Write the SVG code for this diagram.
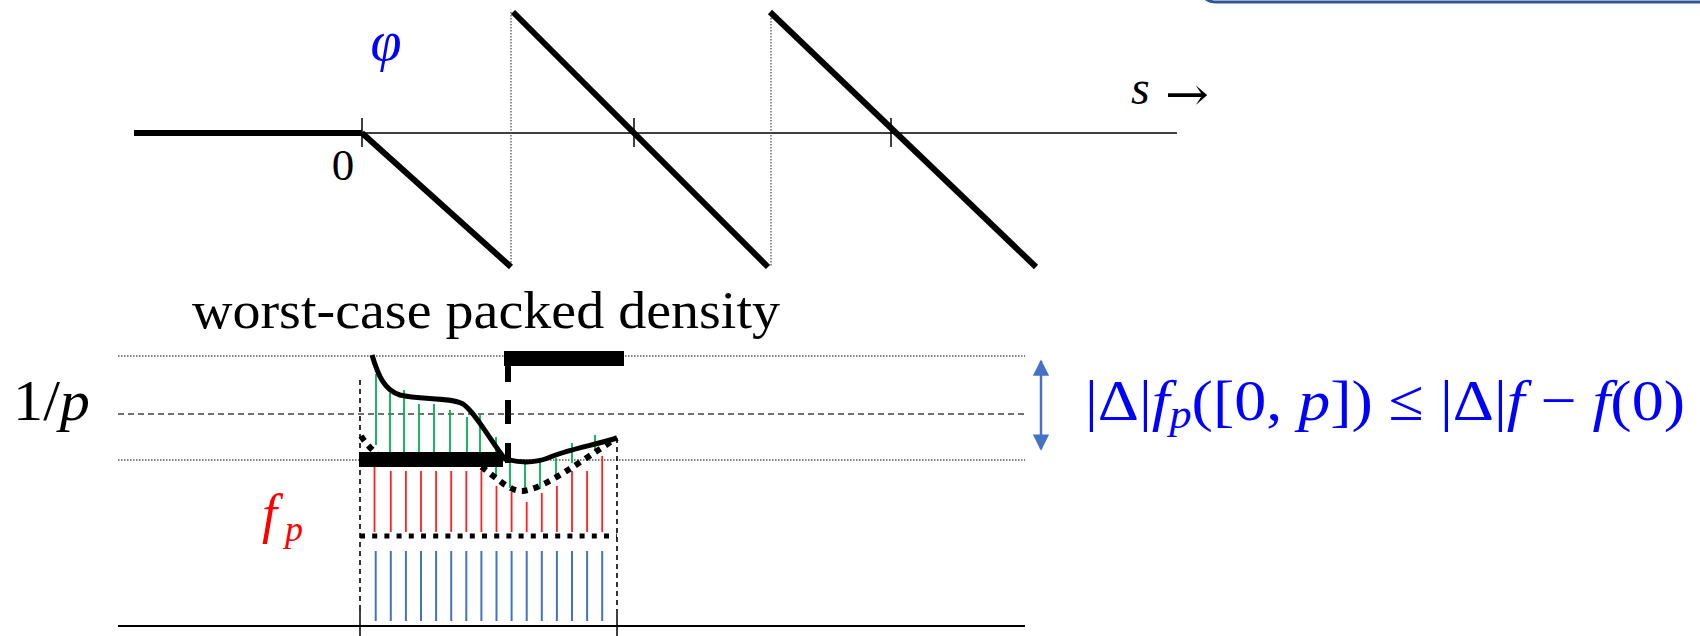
<svg xmlns="http://www.w3.org/2000/svg" width="1700" height="636" viewBox="0 0 1700 636">
<defs>
<style>
.serif{font-family:"Liberation Serif","DejaVu Serif",serif;}
.it{font-style:italic;}
.thin{stroke:#000;stroke-width:1.5;fill:none;}
.thick{stroke:#000;stroke-width:6;fill:none;}
.dot{stroke:#555;stroke-width:1.3;stroke-dasharray:1.5 1.5;fill:none;}
.dash{stroke:#444;stroke-width:1.6;stroke-dasharray:6 4;fill:none;}
.vdash{stroke:#000;stroke-width:1.6;stroke-dasharray:5 4;fill:none;}
.red line{stroke:#FF2020;stroke-width:1.8;}
.green line{stroke:#00B050;stroke-width:1.8;}
.blue line{stroke:#4472C4;stroke-width:2;}
</style>
<marker id="ah" viewBox="0 0 10 10" refX="9" refY="5" markerWidth="6.5" markerHeight="6.5" orient="auto-start-reverse">
<path d="M0,0 L10,5 L0,10 z" fill="#4472C4"/>
</marker>
</defs>
<rect width="1700" height="636" fill="#fff"/>

<g id="corner-box">
<rect x="1198" y="-60" width="560" height="62" rx="18" fill="none" stroke="#2F5597" stroke-width="3"/>
</g>

<g id="top-plot">
<line class="thin" x1="362" y1="133" x2="1177" y2="133"/>
<line class="thick" x1="134" y1="133" x2="362" y2="133"/>
<line class="thin" x1="362" y1="118" x2="362" y2="147"/>
<line class="thin" x1="634" y1="118" x2="634" y2="147"/>
<line class="thin" x1="891" y1="118" x2="891" y2="147"/>
<line class="dot" x1="511" y1="12" x2="511" y2="267"/>
<line class="dot" x1="771" y1="12" x2="771" y2="267"/>
<path class="thick" d="M362,133 L511,267"/>
<path class="thick" d="M513,12 L768,267"/>
<path class="thick" d="M770,12 L1036,267"/>
<text class="serif" x="343" y="180" font-size="45" text-anchor="middle">0</text>
<text class="serif it" x="386" y="60" font-size="56" text-anchor="middle" fill="#0000FF">φ</text>
<text class="serif it" x="1131" y="104" font-size="48">s</text>
<text x="1165" y="110" font-size="46" font-family="'DejaVu Serif','DejaVu Sans',serif" textLength="44" lengthAdjust="spacingAndGlyphs">→</text>
</g>

<g id="title">
<text class="serif" x="192" y="328" font-size="53" textLength="588" lengthAdjust="spacingAndGlyphs">worst-case packed density</text>
</g>

<g id="bottom-plot">
<line class="dot" x1="118" y1="356" x2="1025" y2="356"/>
<line class="dash" x1="118" y1="414" x2="1025" y2="414"/>
<line class="dot" x1="118" y1="460" x2="1025" y2="460"/>
<line x1="118" y1="626" x2="1025" y2="626" stroke="#000" stroke-width="2"/>
<line class="vdash" x1="360" y1="380" x2="360" y2="610"/>
<line class="vdash" x1="617" y1="438" x2="617" y2="610"/>
<line class="thin" x1="360" y1="610" x2="360" y2="636"/>
<line class="thin" x1="617" y1="610" x2="617" y2="636"/>

<g class="blue">
<line x1="375.7" y1="551" x2="375.7" y2="621"/>
<line x1="390.8" y1="551" x2="390.8" y2="621"/>
<line x1="405.9" y1="551" x2="405.9" y2="621"/>
<line x1="421" y1="551" x2="421" y2="621"/>
<line x1="436.1" y1="551" x2="436.1" y2="621"/>
<line x1="451.2" y1="551" x2="451.2" y2="621"/>
<line x1="466.3" y1="551" x2="466.3" y2="621"/>
<line x1="481.4" y1="551" x2="481.4" y2="621"/>
<line x1="496.5" y1="551" x2="496.5" y2="621"/>
<line x1="511.6" y1="551" x2="511.6" y2="621"/>
<line x1="526.7" y1="551" x2="526.7" y2="621"/>
<line x1="541.8" y1="551" x2="541.8" y2="621"/>
<line x1="556.9" y1="551" x2="556.9" y2="621"/>
<line x1="572" y1="551" x2="572" y2="621"/>
<line x1="587.1" y1="551" x2="587.1" y2="621"/>
<line x1="602.2" y1="551" x2="602.2" y2="621"/>
</g>

<g class="red">
<line x1="374.5" y1="467" x2="374.5" y2="532"/>
<line x1="390.8" y1="471" x2="390.8" y2="532"/>
<line x1="405.9" y1="471" x2="405.9" y2="532"/>
<line x1="421" y1="471" x2="421" y2="532"/>
<line x1="436.1" y1="471" x2="436.1" y2="532"/>
<line x1="451.2" y1="471" x2="451.2" y2="532"/>
<line x1="466.3" y1="471" x2="466.3" y2="532"/>
<line x1="481.4" y1="471" x2="481.4" y2="532"/>
<line x1="496.5" y1="486" x2="496.5" y2="532"/>
<line x1="511.6" y1="492" x2="511.6" y2="532"/>
<line x1="526.7" y1="502" x2="526.7" y2="532"/>
<line x1="541.8" y1="493" x2="541.8" y2="532"/>
<line x1="556.9" y1="486" x2="556.9" y2="532"/>
<line x1="572" y1="471" x2="572" y2="532"/>
<line x1="587.1" y1="471" x2="587.1" y2="532"/>
<line x1="602.2" y1="456" x2="602.2" y2="532"/>
</g>

<g class="green">
<line x1="376" y1="374" x2="376" y2="445"/>
<line x1="390" y1="393" x2="390" y2="458"/>
<line x1="404" y1="390" x2="404" y2="458"/>
<line x1="419" y1="404" x2="419" y2="458"/>
<line x1="434" y1="404" x2="434" y2="458"/>
<line x1="450" y1="410" x2="450" y2="458"/>
<line x1="467" y1="417" x2="467" y2="458"/>
<line x1="480" y1="415" x2="480" y2="462"/>
<line x1="496" y1="437" x2="496" y2="475"/>
<line x1="510" y1="463" x2="510" y2="488"/>
<line x1="525" y1="463" x2="525" y2="489"/>
<line x1="540" y1="462" x2="540" y2="489"/>
<line x1="556" y1="458" x2="556" y2="475"/>
<line x1="572" y1="443" x2="572" y2="463"/>
<line x1="595" y1="435" x2="595" y2="451"/>
</g>

<line x1="360" y1="536" x2="617" y2="536" stroke="#000" stroke-width="5" stroke-dasharray="5 7.2"/>
<path d="M361,436 Q370,450 386,461 L476,463 C495,476 508,491 522,491 C545,489 580,461 617,438" fill="none" stroke="#000" stroke-width="6" stroke-dasharray="6 6"/>
<rect x="359" y="452" width="144" height="15" fill="#000"/>
<rect x="504" y="351" width="120" height="15" fill="#000"/>
<path d="M508,351 L508,382 M508,400 L508,424 M508,443 L508,463" stroke="#000" stroke-width="6" fill="none"/>
<path d="M372,355 C378,375 384,390 400,395 C420,400 450,397 463,404 C475,412 490,440 505,459 C520,463 535,463 548,458 C565,450 595,445 617,438" fill="none" stroke="#000" stroke-width="5"/>

<text class="serif" x="13" y="420" font-size="56" textLength="77" lengthAdjust="spacingAndGlyphs">1/<tspan class="it">p</tspan></text>
<text class="serif it" x="262" y="532" font-size="54" fill="#FF0000">f</text>
<text class="serif it" x="285" y="541" font-size="36" fill="#FF0000">p</text>
</g>

<g id="connectors">
<line x1="1041" y1="361" x2="1041" y2="449" stroke="#4472C4" stroke-width="2.5" marker-start="url(#ah)" marker-end="url(#ah)"/>
</g>

<g id="formula">
<text class="serif" x="1085" y="420" font-size="58" fill="#0000FF" textLength="600" lengthAdjust="spacingAndGlyphs">|Δ|<tspan class="it">f</tspan><tspan class="it" font-size="40" dy="8">p</tspan><tspan dy="-8">([0, </tspan><tspan class="it">p</tspan>]) ≤ |Δ|<tspan class="it">f</tspan> − <tspan class="it">f</tspan>(0)</text>
</g>
</svg>
